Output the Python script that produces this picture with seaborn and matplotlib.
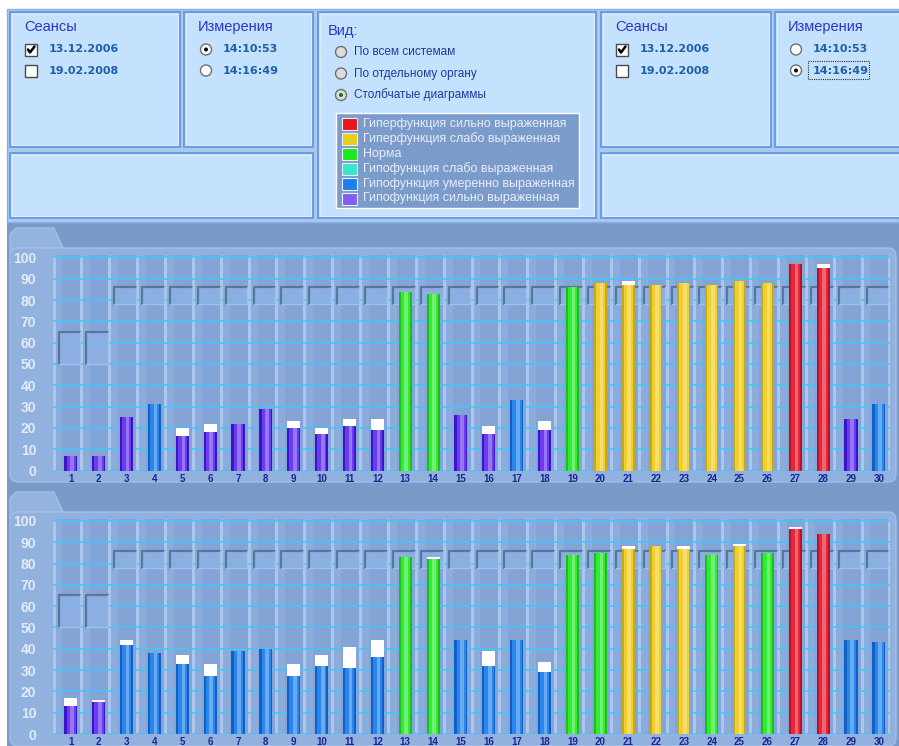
import numpy as np
import pandas as pd
import matplotlib
matplotlib.use('Agg')
import matplotlib.pyplot as plt
import seaborn as sns
from matplotlib.patches import Rectangle, FancyBboxPatch, Circle, Polygon

# ---- data ----
positions = list(range(1, 31))

top_values = [7, 7, 25, 31, 16, 18, 22, 29, 20, 17, 21, 19, 84, 83, 26,
              17, 33, 19, 86, 88, 87, 87, 88, 87, 89, 88, 97, 95, 24, 31]
top_previous = [7, 7, 25, 31, 20, 22, 22, 29, 23, 20, 24, 24, 84, 83, 26,
                21, 33, 23, 86, 88, 89, 87, 88, 87, 89, 88, 97, 97, 24, 31]
top_classes = ['hs', 'hs', 'hs', 'hm', 'hs', 'hs', 'hs', 'hs', 'hs', 'hs', 'hs', 'hs', 'n', 'n', 'hs',
               'hs', 'hm', 'hs', 'n', 'yw', 'yw', 'yw', 'yw', 'yw', 'yw', 'yw', 'ys', 'ys', 'hs', 'hm']

bottom_values = [13, 15, 42, 38, 33, 27, 39, 40, 27, 32, 31, 36, 83, 82, 44,
                 32, 44, 29, 84, 85, 87, 88, 87, 84, 88, 85, 96, 94, 44, 43]
bottom_previous = [17, 16, 44, 38, 37, 33, 39, 40, 33, 37, 41, 44, 83, 83, 44,
                   39, 44, 34, 84, 85, 88, 88, 88, 84, 89, 85, 97, 94, 44, 43]
bottom_classes = ['hs', 'hs', 'hm', 'hm', 'hm', 'hm', 'hm', 'hm', 'hm', 'hm', 'hm', 'hm', 'n', 'n', 'hm',
                  'hm', 'hm', 'hm', 'n', 'n', 'yw', 'yw', 'yw', 'n', 'yw', 'n', 'ys', 'ys', 'hm', 'hm']

norm_low = [50, 50, 78, 78, 78, 78, 78, 78, 78, 78, 78, 78, 78, 78, 78,
            78, 78, 78, 78, 78, 78, 78, 78, 78, 78, 78, 78, 78, 78, 78]
norm_high = [65, 65, 86, 86, 86, 86, 86, 86, 86, 86, 86, 86, 86, 86, 86,
             86, 86, 86, 86, 86, 86, 86, 86, 86, 86, 86, 86, 86, 86, 86]

legend_labels = ['Гиперфункция сильно выраженная', 'Гиперфункция слабо выраженная', 'Норма',
                 'Гипофункция слабо выраженная', 'Гипофункция умеренно выраженная',
                 'Гипофункция сильно выраженная']
legend_colors = ['#e8141e', '#e8cc1e', '#1ee81e', '#38e6cc', '#1a80f0', '#8060f2']

bar_colors = {'ys': '#e4283a', 'yw': '#f0d030', 'n': '#34ea34', 'hw': '#38e6cc',
              'hm': '#2a86ec', 'hs': '#6a3cf0'}
edge_colors = {'ys': '#c01020', 'yw': '#c8a818', 'n': '#18c018', 'hw': '#20b8a0',
               'hm': '#1060c8', 'hs': '#3c14c8'}

sessions = ['13.12.2006', '19.02.2008']
measures = ['14:10:53', '14:16:49']
view_options = ['По всем системам', 'По отдельному органу', 'Столбчатые диаграммы']

W, H = 899, 746


def panel(bg, x0, y0, x1, y1):
    bg.add_patch(Rectangle((x0, y0), x1 - x0, y1 - y0, facecolor='#c4e1fd',
                           edgecolor='#6b9be3', lw=1.4, zorder=1))
    bg.add_patch(Rectangle((x0 + 2, y0 + 2), x1 - x0 - 4, y1 - y0 - 4, facecolor='none',
                           edgecolor='#e4f0ff', lw=0.6, zorder=1))


def checkbox(bg, x, y, checked):
    bg.add_patch(Rectangle((x, y), 12, 12, facecolor='white', edgecolor='#4a4a4a', lw=1, zorder=2))
    if checked:
        bg.plot([x + 3, x + 5, x + 9.5], [y + 6, y + 9, y + 3], color='black', lw=1.8, zorder=3)


def radio(bg, x, y, selected, dot='black', face='white'):
    bg.add_patch(Circle((x, y), 5.5, facecolor=face, edgecolor='#707070', lw=1, zorder=2))
    if selected:
        bg.add_patch(Circle((x, y), 2, facecolor=dot, edgecolor='none', zorder=3))


def top_area(bg):
    bg.add_patch(Rectangle((7, 9), W - 7, 213, facecolor='#a9c9ef', edgecolor='#8ab0e8', lw=1, zorder=0))
    for (x0, y0, x1, y1) in [(10, 12, 180, 147), (184, 12, 313, 147), (10, 153, 313, 218),
                             (318, 12, 596, 218), (601, 12, 771, 147), (775, 12, 905, 147),
                             (601, 153, 905, 218)]:
        panel(bg, x0, y0, x1, y1)

    title_kw = dict(fontsize=10.5, color='#2b35c8', va='center', zorder=4)
    val_kw = dict(fontsize=8, color='#1d5fa8', fontweight='bold', va='center', zorder=4,
                  family=['DejaVu Sans'])
    for ox in [0, 591]:
        bg.text(24 + ox, 27, 'Сеансы', **title_kw)
        for k, s in enumerate(sessions):
            checkbox(bg, 25 + ox, 43.5 + k * 21, k == 0)
            bg.text(49 + ox, 49.5 + k * 21, s, **val_kw)
    for ox, sel in [(0, 0), (590, 1)]:
        bg.text(198 + ox, 27, 'Измерения', **title_kw)
        for k, m in enumerate(measures):
            radio(bg, 206 + ox, 49.5 + k * 21, k == sel)
            bg.text(223 + ox, 49.5 + k * 21, m, **val_kw)
    bg.add_patch(Rectangle((808, 61), 61, 18, facecolor='none', edgecolor='#303030',
                           lw=0.8, ls=(0, (1, 1)), zorder=4))

    bg.text(328, 31, 'Вид:', **title_kw)
    for k, opt in enumerate(view_options):
        radio(bg, 341, 52 + k * 21.5, k == 2, dot='#0a7a0a', face='#dcdcdc')
        bg.text(354, 52 + k * 21.5, opt, fontsize=8.5, color='#1e3aa0', va='center', zorder=4)

    bg.add_patch(Rectangle((336, 113), 243, 95, facecolor='#7b9bcb', edgecolor='white', lw=1, zorder=2))
    for k, (lab, col) in enumerate(zip(legend_labels, legend_colors)):
        yc = 123.5 + k * 15
        bg.add_patch(Rectangle((342, yc - 6), 15, 12, facecolor=col, edgecolor='#f0f0f0', lw=0.8, zorder=3))
        bg.text(363, yc, lab, fontsize=9, color='#e8eefa', va='center', zorder=4)


def chart_frame(bg, top):
    # top = y pixel of main panel top edge
    bg.add_patch(Polygon([(10, top + 6), (10, top - 14), (16, top - 20), (54, top - 20), (63, top)],
                         closed=True, facecolor='#94b3df', edgecolor='#a7c4ea', lw=0.8, zorder=1))
    bg.add_patch(FancyBboxPatch((10, top), 886, 234, boxstyle='round,pad=0,rounding_size=8',
                                facecolor='#91b1de', edgecolor='#a7c4ea', lw=0.8, zorder=1))


def draw_chart(ax, values, previous, classes):
    df = pd.DataFrame({'pos': positions, 'value': values, 'cls': classes})
    ax.set_facecolor('none')
    for p in positions:
        ax.axvspan(p - 0.62, p + 0.38, color='#84a4d6', zorder=0.1, lw=0)
        ax.axvspan(p - 0.58, p - 0.3, color='#93b3e0', alpha=0.6, zorder=0.15, lw=0)
    ax.vlines([p - 0.62 for p in positions] + [positions[-1] + 0.38], 0, 100.9,
              color='#abc7ee', lw=2.2, zorder=0.3)
    ax.set_yticks(range(0, 101, 10))
    ax.set_axisbelow(True)
    ax.grid(axis='y', color='#40c6fb', lw=1.1, zorder=0.5)
    ax.grid(axis='x', visible=False)

    for p, lo, hi in zip(positions, norm_low, norm_high):
        ax.add_patch(Rectangle((p - 0.44, lo), 0.78, hi - lo, facecolor='#8fb1e4',
                               edgecolor='none', alpha=0.8, zorder=1))
        ax.plot([p - 0.44, p - 0.44, p + 0.34], [lo, hi, hi], color='#58779f', lw=1.6, zorder=1.1)
        ax.plot([p - 0.44, p + 0.34, p + 0.34], [lo, lo, hi], color='#a2c0ea', lw=1, zorder=1.1)

    sns.barplot(data=df, x='pos', y='value', hue='cls', palette=bar_colors, native_scale=True,
                width=0.47, saturation=1, dodge=False, legend=False, ax=ax, zorder=2, linewidth=0)
    # glossy shading on each bar
    ax.bar([p + 0.04 for p in positions], values, width=0.13, color='white', alpha=0.3, zorder=3, lw=0)
    ax.bar([p - 0.195 for p in positions], values, width=0.08,
           color=[edge_colors[c] for c in classes], zorder=3, lw=0)
    ax.bar([p + 0.205 for p in positions], values, width=0.06,
           color=[edge_colors[c] for c in classes], zorder=3, lw=0)
    caps = [max(pr - v, 0) for pr, v in zip(previous, values)]
    ax.bar(positions, caps, bottom=values, width=0.47, color='white', zorder=3, lw=0)

    ax.set_xlim(0.36, 30.4)
    ax.set_ylim(0, 100.9)
    ax.set_xticks(positions)
    ax.set_xticklabels([str(p) for p in positions])
    ax.set_xlabel('')
    ax.set_ylabel('')
    ax.tick_params(axis='y', length=0, pad=12, labelsize=10, labelcolor='#e4ecf8')
    ax.tick_params(axis='x', length=0, pad=2.5, labelsize=7, labelcolor='#1c2490')
    for lab in ax.get_xticklabels() + ax.get_yticklabels():
        lab.set_fontweight('bold')
    for s in ax.spines.values():
        s.set_visible(False)


def main():
    sns.set_theme(style='white')
    plt.rcParams['font.family'] = ['Liberation Sans', 'DejaVu Sans']
    fig = plt.figure(figsize=(W / 100, H / 100), dpi=100)
    fig.patch.set_facecolor('white')

    bg = fig.add_axes([0, 0, 1, 1], zorder=-1)
    bg.set_xlim(0, W)
    bg.set_ylim(H, 0)
    bg.axis('off')
    bg.add_patch(Rectangle((7, 223), W - 7, H - 223, facecolor='#7a9bca', edgecolor='none', zorder=0))
    top_area(bg)
    chart_frame(bg, 248)
    chart_frame(bg, 512)

    for zero_y, vals, prev, cls in [(470.5, top_values, top_previous, top_classes),
                                    (734, bottom_values, bottom_previous, bottom_classes)]:
        ax = fig.add_axes([53 / W, (H - zero_y) / H, 837 / W, 215 / H])
        draw_chart(ax, vals, prev, cls)

    fig.savefig('out.png', dpi=100)


if __name__ == '__main__':
    main()
